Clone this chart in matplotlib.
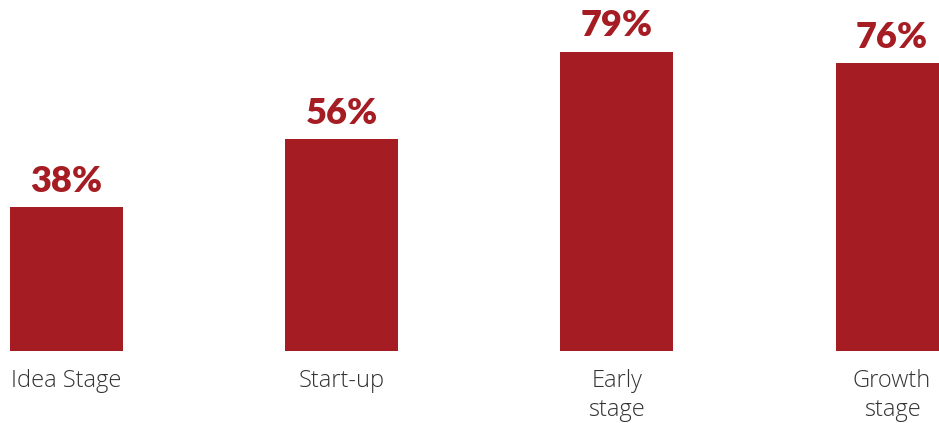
import matplotlib
matplotlib.use("Agg")
import matplotlib.pyplot as plt

# share of respondents by company stage
stages = ["Idea Stage", "Start-up", "Early\nstage", "Growth\nstage"]
shares = [38, 56, 79, 76]

BAR_COLOR = "#A51C23"
TEXT_COLOR = "#333333"

fig = plt.figure(figsize=(9.39, 4.23), dpi=100)
ax = fig.add_axes([0, 0, 1, 1])

xs = range(len(stages))
bars = ax.bar(xs, shares, width=0.41, color=BAR_COLOR)

for b, v in zip(bars, shares):
    ax.text(b.get_x() + b.get_width() / 2, v + 2.4, f"{v}%",
            ha="center", va="bottom", fontsize=26, fontweight="heavy",
            family="Lato", color=BAR_COLOR)

for x, name in zip(xs, stages):
    ax.text(x, -4.8, name, ha="center", va="top", fontsize=17,
            fontweight="light", family="Open Sans", color=TEXT_COLOR,
            linespacing=1.25)

ax.set_xlim(-0.2416, 3.171)
ax.set_ylim(-19.0, 92.6)
ax.axis("off")

fig.savefig("out.png", dpi=100, facecolor="white")
